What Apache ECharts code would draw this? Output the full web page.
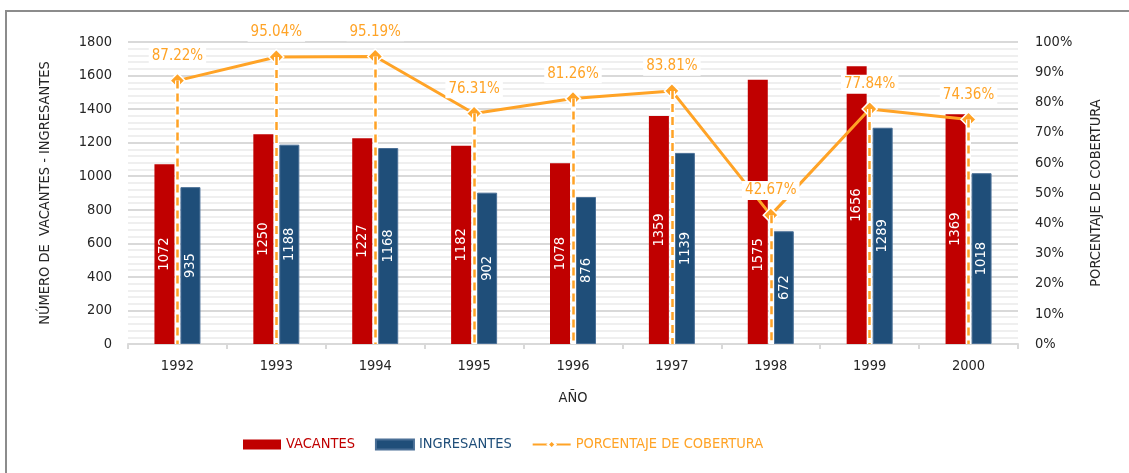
<!DOCTYPE html>
<html>
<head>
<meta charset="utf-8">
<script src="https://cdn.jsdelivr.net/npm/echarts@6/dist/echarts.min.js"></script>
<style>
  html, body { margin: 0; padding: 0; background: #fff; overflow: hidden; }
  #chart { position: absolute; left: 0; top: 0; width: 1129px; height: 473px; }
  #frame { position: absolute; left: 5px; top: 10px; width: 1200px; height: 600px;
           border-left: 2px solid #8c8c8c; border-top: 2px solid #8c8c8c; pointer-events: none; }
</style>
</head>
<body>
<div id="chart"></div>
<div id="frame"></div>
<script>
// Admission data per year
const years = ['1992', '1993', '1994', '1995', '1996', '1997', '1998', '1999', '2000'];
const vacantes = [1072, 1250, 1227, 1182, 1078, 1359, 1575, 1656, 1369];
const ingresantes = [935, 1188, 1168, 902, 876, 1139, 672, 1289, 1018];
const cobertura = [87.22, 95.04, 95.19, 76.31, 81.26, 83.81, 42.67, 77.84, 74.36];

const FONT = '"DejaVu Sans Condensed", "Liberation Sans Narrow", Roboto, sans-serif';
const FS = 14.5;
const RED = '#C00000';
const BLUE = '#1F4E79';
const ORANGE = '#FFA326';
const TEXT = '#262626';

// vertical drop lines from every coverage point down to the axis
const dropLines = years.map((y, i) => [{ coord: [y, cobertura[i]] }, { coord: [y, 0] }]);

// the 1998 vacancy label sits lower in its bar (offset is in the rotated frame)
const vacData = vacantes.map((v, i) =>
  years[i] === '1998' ? { value: v, label: { offset: [-43, 0] } } : v);

const chart = echarts.init(document.getElementById('chart'));
chart.setOption({
  animation: false,
  textStyle: { fontFamily: FONT },
  grid: { left: 128, right: 111, top: 42, bottom: 129 },
  legend: {
    left: 243, top: 437, padding: 0,
    itemWidth: 38, itemHeight: 10, itemGap: 20,
    textStyle: { fontFamily: FONT, fontSize: FS },
    data: [
      { name: 'VACANTES', icon: 'rect', textStyle: { color: RED } },
      { name: 'INGRESANTES', icon: 'rect', textStyle: { color: BLUE } },
      { name: 'PORCENTAJE DE COBERTURA', textStyle: { color: ORANGE } }
    ]
  },
  xAxis: {
    type: 'category',
    data: years,
    name: 'AÑO',
    nameLocation: 'middle',
    nameGap: 47,
    nameTextStyle: { color: TEXT, fontSize: FS, fontFamily: FONT },
    axisLine: { lineStyle: { color: '#d9d9d9', width: 2 } },
    axisTick: { show: true, length: 5, lineStyle: { color: '#d9d9d9', width: 2 } },
    axisLabel: { color: TEXT, fontSize: FS, fontFamily: FONT, margin: 15 }
  },
  yAxis: [
    {
      type: 'value', min: 0, max: 1800, interval: 200,
      name: 'NÚMERO DE  VACANTES - INGRESANTES',
      nameLocation: 'middle', nameGap: 75, nameRotate: 90,
      nameTextStyle: { color: TEXT, fontSize: FS, fontFamily: FONT },
      axisLine: { show: false }, axisTick: { show: false },
      axisLabel: { color: TEXT, fontSize: FS, fontFamily: FONT, margin: 16, formatter: v => String(v) },
      splitLine: { lineStyle: { color: '#d9d9d9', width: 2 } },
      minorTick: { show: false, splitNumber: 5 },
      minorSplitLine: { show: true, lineStyle: { color: '#efefef', width: 2 } }
    },
    {
      type: 'value', min: 0, max: 100, interval: 10,
      name: 'PORCENTAJE DE COBERTURA',
      nameLocation: 'middle', nameGap: 71, nameRotate: 90,
      nameTextStyle: { color: TEXT, fontSize: FS, fontFamily: FONT },
      axisLine: { show: false }, axisTick: { show: false },
      axisLabel: { color: TEXT, fontSize: FS, fontFamily: FONT, margin: 17, formatter: '{value}%' },
      splitLine: { show: false }
    }
  ],
  series: [
    {
      name: 'VACANTES', type: 'bar', data: vacData, z: 1,
      barWidth: 20, barGap: '30%',
      itemStyle: { color: RED },
      label: { show: true, position: 'inside', rotate: 90, color: '#fff', fontSize: FS, fontFamily: FONT }
    },
    {
      name: 'INGRESANTES', type: 'bar', data: ingresantes, z: 1,
      barWidth: 20,
      itemStyle: { color: BLUE, borderColor: '#4a6f96', borderWidth: 1 },
      label: { show: true, position: 'inside', rotate: 90, color: '#fff', fontSize: FS, fontFamily: FONT }
    },
    {
      // white halo under the dashed drop lines
      name: 'halo', type: 'line', yAxisIndex: 1, data: cobertura, z: 2,
      symbol: 'none', lineStyle: { opacity: 0 }, silent: true, legendHoverLink: false,
      markLine: {
        silent: true, symbol: 'none', label: { show: false }, animation: false,
        lineStyle: { color: '#fff', width: 5, type: 'solid' },
        data: dropLines
      }
    },
    {
      name: 'PORCENTAJE DE COBERTURA', type: 'line', yAxisIndex: 1, data: cobertura, z: 3,
      symbol: 'diamond', symbolSize: 15,
      lineStyle: { color: ORANGE, width: 3 },
      itemStyle: { color: ORANGE, borderColor: '#fff', borderWidth: 1.5 },
      label: {
        show: true, position: 'top', distance: 7,
        color: ORANGE, fontSize: FS + 0.5, fontFamily: FONT,
        backgroundColor: '#fff', padding: [2, 3],
        formatter: p => p.value.toFixed(2) + '%'
      },
      markLine: {
        silent: true, symbol: 'none', label: { show: false }, animation: false,
        lineStyle: { color: ORANGE, width: 2.5, type: [8, 5] },
        data: dropLines
      }
    }
  ]
});
</script>
</body>
</html>
